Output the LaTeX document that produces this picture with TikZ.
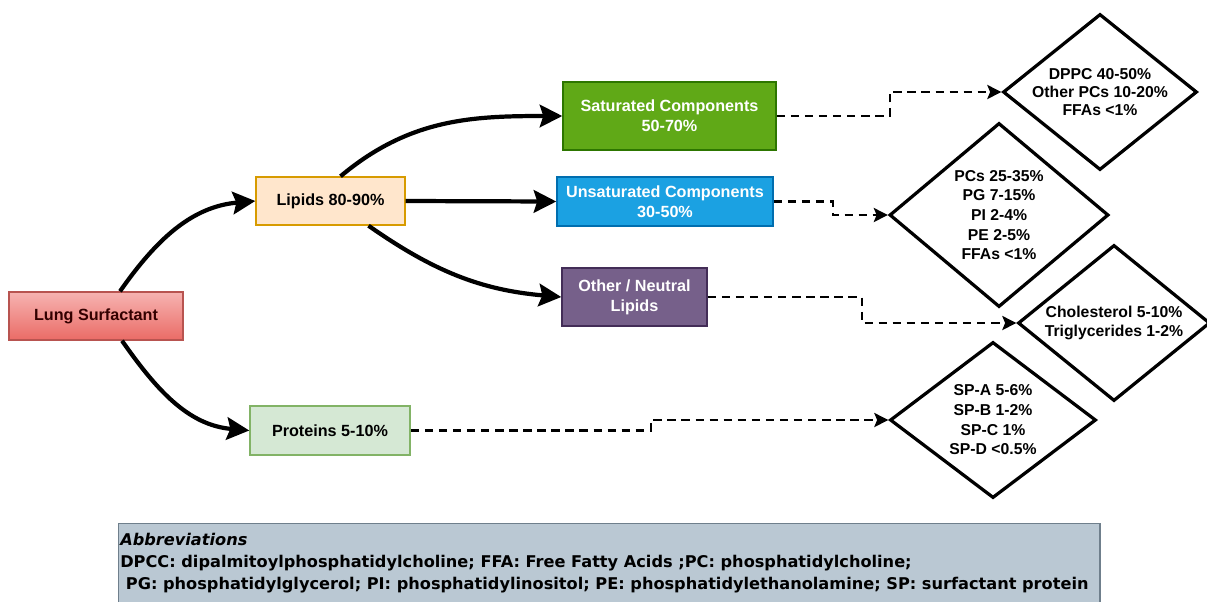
\documentclass[tikz,border=0pt]{standalone}
\usepackage{fontspec}
\setmainfont{Liberation Sans}
\newfontfamily\abbfont{DejaVu Sans}
\usetikzlibrary{arrows.meta,positioning,shapes.geometric}

\definecolor{lstop}{HTML}{F6B3B1}
\definecolor{lsbot}{HTML}{EA6B66}
\definecolor{lsline}{HTML}{B85450}
\definecolor{lipfill}{HTML}{FFE6CC}
\definecolor{lipline}{HTML}{D79B00}
\definecolor{satfill}{HTML}{60A917}
\definecolor{satline}{HTML}{2D7600}
\definecolor{unsfill}{HTML}{1BA1E2}
\definecolor{unsline}{HTML}{006EAF}
\definecolor{othfill}{HTML}{76608A}
\definecolor{othline}{HTML}{432D57}
\definecolor{profill}{HTML}{D5E8D4}
\definecolor{proline}{HTML}{82B366}
\definecolor{abbfill}{HTML}{BAC8D3}
\definecolor{abbline}{HTML}{6F7F8C}

\begin{document}
\begin{tikzpicture}[x=0.025cm, y=-0.025cm, >=Stealth,
  box/.style={draw, line width=1pt, align=center, inner sep=1pt,
    font=\bfseries\fontsize{11.5}{14}\selectfont},
  mix/.style={diamond, draw, line width=2.3pt, align=center, inner sep=-6pt,
    font=\bfseries\fontsize{11.2}{13}\selectfont},
  arr/.style={line width=3pt, -{Stealth[length=16pt,width=16pt,inset=2.5pt]}},
  darr/.style={line width=1.7pt, dash pattern=on 6pt off 4pt,
    -{Stealth[length=10pt,width=10pt,inset=2pt]}}]
  \useasboundingbox (0,0) rectangle (1207,601);

  % boxes
  \node[box, top color=lstop, bottom color=lsbot, draw=lsline, text=black!80!red,
    minimum width=4.35cm, minimum height=1.2cm] (ls) at (96,316) {Lung Surfactant};
  \node[box, fill=lipfill, draw=lipline, minimum width=3.725cm, minimum height=1.2cm]
    (lip) at (330.5,201) {Lipids 80-90\%};
  \node[box, fill=satfill, draw=satline, text=white, minimum width=5.325cm,
    minimum height=1.7cm] (sat) at (669.5,116) {Saturated Components\\50-70\%};
  \node[box, fill=unsfill, draw=unsline, text=white, minimum width=5.4cm,
    minimum height=1.225cm] (uns) at (665,201.5) {Unsaturated Components\\30-50\%};
  \node[box, fill=othfill, draw=othline, text=white, minimum width=3.625cm,
    minimum height=1.45cm] (oth) at (634.5,297) {Other / Neutral\\Lipids};
  \node[box, fill=profill, draw=proline, minimum width=4cm, minimum height=1.225cm]
    (pro) at (330,430.5) {Proteins 5-10\%};

  % diamonds
  \node[mix, minimum width=4.85cm, minimum height=3.9cm] (d1) at (1100,92)
    {DPPC 40-50\%\\Other PCs 10-20\%\\FFAs <1\%};
  \node[mix, minimum width=5.475cm, minimum height=4.6cm,
    font=\bfseries\fontsize{11.2}{14}\selectfont] (d2) at (999,215)
    {PCs 25-35\%\\PG 7-15\%\\PI 2-4\%\\PE 2-5\%\\FFAs <1\%};
  \node[mix, minimum width=4.8cm, minimum height=3.9cm] (d3) at (1114,323)
    {Cholesterol 5-10\%\\Triglycerides 1-2\%};
  \node[mix, minimum width=5.15cm, minimum height=3.9cm,
    font=\bfseries\fontsize{11.2}{14}\selectfont] (d4) at (993,420)
    {SP-A 5-6\%\\SP-B 1-2\%\\SP-C 1\%\\SP-D <0.5\%};

  % solid arrows
  \draw[arr] ([xshift=0.6cm]ls.north) to[out=55, in=185] (lip.west);
  \draw[arr] ([xshift=0.65cm]ls.south) to[out=-55, in=175] (pro.west);
  \draw[arr] ([xshift=0.25cm]lip.north) to[out=40, in=180] (sat.west);
  \draw[arr] (lip.east) -- (uns.west);
  \draw[arr] ([xshift=0.95cm]lip.south) to[out=-35, in=175] (oth.west);

  % dashed arrows
  \draw[darr] (sat.east) -- ++(113,0) |- (d1.west);
  \draw[darr] (uns.east) -- ++(59,0) |- (d2.west);
  \draw[darr] (oth.east) -- ++(154,0) |- (d3.west);
  \draw[darr] (pro.east) -- ++(240,0) |- (d4.west);

  % abbreviations
  \node[draw=abbline, fill=abbfill, line width=1pt, anchor=north west,
    minimum width=24.525cm, minimum height=2.15cm] (abb) at (118,523) {};
  \node[anchor=north west, align=left, inner sep=0pt,
    font=\abbfont\bfseries\fontsize{11.5}{15.6}\selectfont] (abbt) at (120,533)
    {\textit{Abbreviations}\\
     DPCC: dipalmitoylphosphatidylcholine; FFA: Free Fatty Acids ;PC: phosphatidylcholine;\\
     \hspace*{4pt}PG: phosphatidylglycerol; PI: phosphatidylinositol; PE: phosphatidylethanolamine; SP: surfactant protein};
\end{tikzpicture}
\end{document}
